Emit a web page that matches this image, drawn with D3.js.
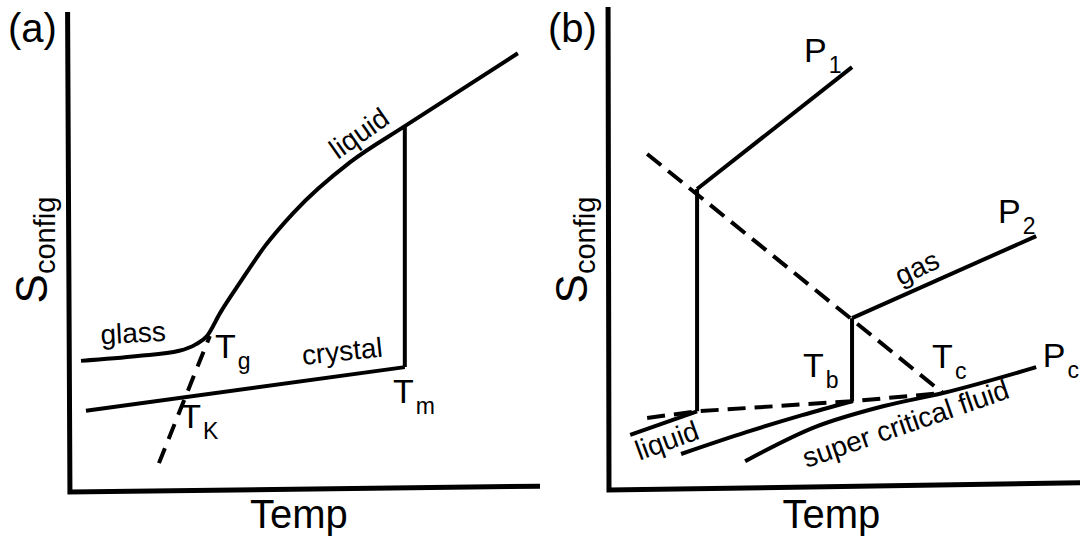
<!DOCTYPE html>
<html>
<head>
<meta charset="utf-8">
<script src="https://cdn.jsdelivr.net/npm/d3@7"></script>
<style>
body{margin:0;background:#fff}
svg{display:block}
text{font-family:"Liberation Sans",Arial,sans-serif;fill:#000}
</style>
</head>
<body>
<svg id="chart" width="1080" height="538"></svg>
<script>
// ---- panel (a) : glass / crystal ----
var axisA = [[-0.3,99.6],[0.2,-0.4],[100,0.8]];
var glassLiquid = [[2.55,26.9],[14.6,27.9],[23.4,29.0],[27.0,30.4],[29.3,32.1],[32.1,36.9],[36.5,43.5],
                   [41.6,50.8],[47.6,57.7],[59.7,68.3],[71.3,75.8],[95.3,91.0]];
var crystal = [[3.6,16.5],[71.3,25.6]];
var melting = [[71.3,25.6],[71.3,75.8]];
var kauzmann = [[19.1,5.6],[29.9,32.1]];

// ---- panel (b) : liquid / gas ----
var axisB = [[-0.2,100.6],[0,0],[100,1.5]];
var gasP1 = [[18.7,62.7],[51.6,88.1]];
var boilP1 = [[18.7,62.7],[18.7,16.4]];
var gasP2 = [[51.6,35.8],[90.7,52.9]];
var boilP2 = [[51.6,35.8],[51.6,18.5]];
var coexGas = [[8.1,70.0],[70.9,20.2]];
var coexLiq = [[8.1,15.0],[18.7,16.4],[51.6,18.5],[70.9,20.2]];
var liquidP1 = [[4.5,11.5],[18.7,16.4]];
var liquidP2 = [[15.3,7.5],[29.3,12.1],[41.0,15.6],[51.6,18.5]];
var fluidPc = [[28.9,6.0],[43.7,13.1],[58.4,17.5],[70.9,20.2],[90.7,25.6]];

// text labels (in data units)
var wordsA = [["glass",13.6,32.7,-3],["crystal",58.0,28.9,-6],["liquid",61.6,74.3,-35]];
var symA = [["T","g",31.0,27.5],["T","K",23.6,12.9],["T","m",68.8,18.1]];
var wordsB = [["gas",65.4,46.3,-25],["liquid",12.3,10.3,-20],["super critical fluid",63.0,13.8,-19]];
var symB = [["P","1",41.4,89.2],["P","2",82.6,55.6],["P","c",92.1,25.6],["T","b",41.2,23.5],["T","c",68.6,25.4]];

var svg = d3.select("#chart");
var yS = d3.scaleLinear().domain([0,100]).range([490,10]);
var xA = d3.scaleLinear().domain([0,100]).range([69,540]);
var xB = d3.scaleLinear().domain([0,100]).range([609,1080]);

function panel(x, lines, words, syms, tag, dash, tempAt){
    var g = svg.append("g");
    lines.forEach(function(l){
        var gen = d3.line()
            .x(function(d){ return x(d[0]); })
            .y(function(d){ return yS(d[1]); })
            .curve(l.curve || d3.curveLinear);
        g.append("path")
            .attr("d", gen(l.data))
            .attr("fill","none")
            .attr("stroke","#000")
            .attr("stroke-width", l.w || 4)
            .attr("stroke-dasharray", l.dash ? dash : null);
    });
    words.forEach(function(w){
        g.append("text")
            .attr("transform","translate("+x(w[1])+","+yS(w[2])+") rotate("+w[3]+")")
            .attr("text-anchor","middle")
            .attr("dominant-baseline","central")
            .attr("font-size",28)
            .text(w[0]);
    });
    syms.forEach(function(s){
        var t = g.append("text")
            .attr("x", x(s[2])).attr("y", yS(s[3]))
            .attr("font-size",34);
        t.append("tspan").text(s[0]);
        t.append("tspan").attr("dy",11).attr("dx",2).attr("font-size",23).text(s[1]);
    });
    // panel tag
    g.append("text").attr("x", x(0)-61).attr("y",42).attr("font-size",40).text(tag);
    // axis titles
    g.append("text").attr("x", x(tempAt)).attr("y",528)
        .attr("text-anchor","middle").attr("font-size",40).text("Temp");
    var yt = g.append("text")
        .attr("transform","translate("+(x(0)-22)+","+yS(50)+") rotate(-90)")
        .attr("text-anchor","middle").attr("font-size",44);
    yt.append("tspan").text("S");
    yt.append("tspan").attr("dy",8).attr("font-size",29).text("config");
}

panel(xA, [
    {data:axisA, w:5},
    {data:glassLiquid, curve:d3.curveMonotoneX},
    {data:crystal},
    {data:melting},
    {data:kauzmann, dash:true}
], wordsA, symA, "(a)", "16,10", 48.8);

panel(xB, [
    {data:axisB, w:5},
    {data:gasP1},
    {data:boilP1},
    {data:gasP2},
    {data:boilP2},
    {data:coexGas, dash:true},
    {data:coexLiq, dash:true},
    {data:liquidP1},
    {data:liquidP2, curve:d3.curveMonotoneX},
    {data:fluidPc, curve:d3.curveMonotoneX}
], wordsB, symB, "(b)", "18,9", 47.2);
</script>
</body>
</html>
